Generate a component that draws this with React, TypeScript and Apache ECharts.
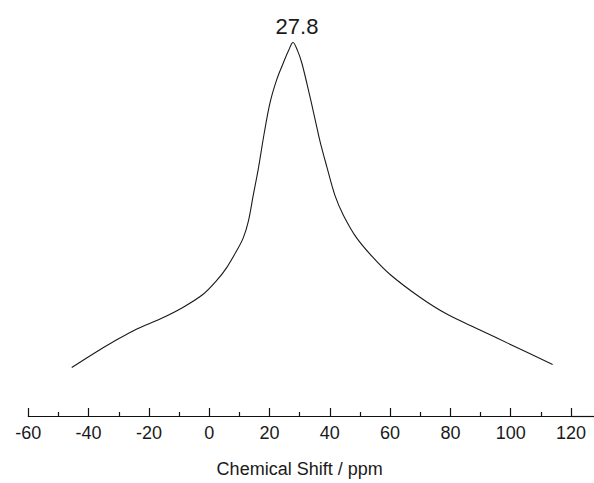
import React, { useEffect, useRef } from "react";
import * as echarts from "echarts";

const shiftPpm: number[] = [
  -45.6, -38.4, -31.8, -24.0, -16.3, -8.6, -2.0, 2.5, 5.8, 9.1, 11.3, 13.0, 14.6, 16.3,
  18.2, 20.2, 22.4, 24.6, 26.4, 27.8, 29.2, 30.7, 33.4, 35.1, 36.8, 39.0, 41.7, 44.5, 48.9,
  54.4, 60.0, 69.9, 78.8, 89.8, 100.8, 113.9,
];
const intensity: number[] = [
  49, 63, 75, 88, 98, 110, 123, 137, 150, 167, 180, 197, 223, 250,
  285, 317, 340, 357, 370, 377.5, 370, 357, 323, 300, 277, 252, 223, 203, 180,
  160, 143, 120, 103, 87, 71, 52,
];
const peakShift = 27.8;
const peakIntensity = 377.5;
const peakLabel = "27.8";
const xTicks = { min: -60, max: 120, interval: 20 };

const FONT = "Liberation Sans, Arial, sans-serif";

export default function App() {
  const ref = useRef<HTMLDivElement>(null);
  useEffect(() => {
    if (!ref.current) return;
    const chart = echarts.init(ref.current, undefined, { renderer: "svg" });
    const data = shiftPpm.map((x, i) => [x, intensity[i]]);
    chart.setOption({
      animation: false,
      backgroundColor: "#ffffff",
      grid: { left: 28.3, right: 23, top: 40, bottom: 63 },
      xAxis: {
        type: "value",
        min: xTicks.min,
        max: xTicks.max,
        interval: xTicks.interval,
        name: "Chemical Shift / ppm",
        nameLocation: "middle",
        nameGap: 44,
        nameTextStyle: { fontSize: 18, color: "#1a1a1a", fontFamily: FONT },
        axisLine: { show: true, lineStyle: { color: "#111", width: 1.2 } },
        axisTick: { show: true, inside: true, length: 8, lineStyle: { color: "#111", width: 1.2 } },
        minorTick: { show: true, splitNumber: 2, length: 4, lineStyle: { color: "#111", width: 1.2 } },
        axisLabel: { margin: 8, fontSize: 18, color: "#1a1a1a", fontFamily: FONT },
        splitLine: { show: false },
        minorSplitLine: { show: false },
      },
      yAxis: { type: "value", min: 0, max: 380, show: false },
      series: [
        {
          type: "line",
          data,
          smooth: 0.35,
          symbol: "none",
          showSymbol: false,
          lineStyle: { color: "#1a1a1a", width: 1.1 },
          markPoint: {
            symbol: "circle",
            symbolSize: 0,
            data: [
              {
                coord: [peakShift, peakIntensity],
                label: {
                  show: true,
                  position: "top",
                  distance: 5,
                  offset: [4, 0],
                  formatter: peakLabel,
                  fontSize: 22,
                  color: "#1a1a1a",
                  fontFamily: FONT,
                },
              },
            ],
          },
        },
      ],
    });
    const end = chart.convertToPixel({ xAxisIndex: 0, yAxisIndex: 0 }, [xTicks.max, 0]) as number[];
    const yLine = Math.round(end[1] * 2 + 1) / 2;
    chart.setOption({
      graphic: [
        {
          type: "line",
          shape: { x1: end[0], y1: yLine, x2: 594, y2: yLine },
          style: { stroke: "#111", lineWidth: 1.2 },
        },
      ],
    });
    return () => chart.dispose();
  }, []);
  return (
    <div
      ref={ref}
      style={{ position: "fixed", left: 0, top: 0, width: 594, height: 483, background: "#fff" }}
    />
  );
}
